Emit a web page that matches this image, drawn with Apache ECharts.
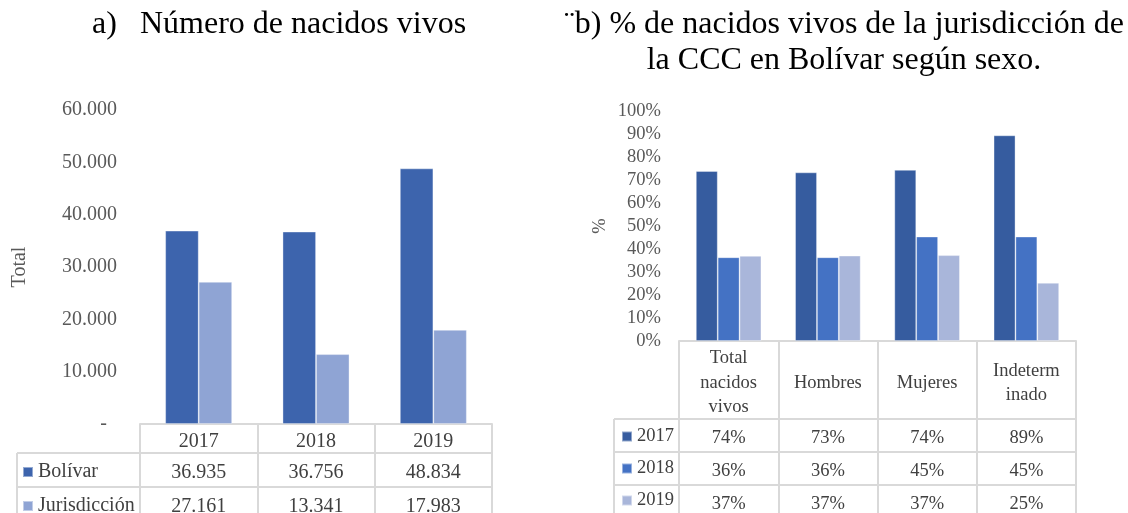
<!DOCTYPE html>
<html>
<head>
<meta charset="utf-8">
<script src="https://cdn.jsdelivr.net/npm/echarts@6/dist/echarts.min.js"></script>
<style>
  html, body { margin: 0; padding: 0; background: #fff; }
  #chart { width: 1128px; height: 513px; }
</style>
</head>
<body>
<div id="chart"></div>
<script>
// a) Número de nacidos vivos
const years = ['2017', '2018', '2019'];
const bolivar = [36935, 36756, 48834];
const jurisdiccion = [27161, 13341, 17983];

// b) % de nacidos vivos de la jurisdicción según sexo
const sexCats = ['Total\nnacidos\nvivos', 'Hombres', 'Mujeres', 'Indeterm\ninado'];
const pct2017 = [73.9, 73.3, 74.4, 89.4];
const pct2018 = [36.4, 36.4, 45.4, 45.4];
const pct2019 = [37.0, 37.1, 37.3, 25.3];

const FONT = "'Liberation Serif', 'Times New Roman', serif";
const LINE = '#D9D9D9';
const TXT = '#404040';
const AXT = '#595959';

// layout of the two panels (plot box + table rows)
const A = { left: 140, top: 110, width: 352, height: 314, headH: 29, rowH: 34, colX: 17 };
const B = { left: 679, top: 111, width: 397, height: 230, headH: 78, rowH: 33, colX: 614 };

const fmtMiles = v => String(v).replace(/\B(?=(\d{3})+(?!\d))/g, '.');
const fmtPct = v => Math.round(v) + '%';

// one category axis per table row: axis line = top border, ticks = cell walls
function tableAxis(gridIndex, cats, offset, h, fontSize, formatter) {
    return {
        type: 'category',
        gridIndex: gridIndex,
        data: cats,
        position: 'bottom',
        offset: offset,
        axisLine: { show: true, lineStyle: { color: LINE, width: 2 } },
        axisTick: { show: true, length: h, interval: 0, lineStyle: { color: LINE, width: 2 } },
        axisLabel: {
            interval: 0,
            margin: h / 2 + 3,
            verticalAlign: 'middle',
            fontFamily: FONT,
            fontSize: fontSize,
            lineHeight: 24.5,
            color: TXT,
            formatter: formatter
        },
        splitLine: { show: false }
    };
}

// borders of the legend column left of each table
function sideLines(box, nRows) {
    const out = [];
    const y0 = box.top + box.height + box.headH;
    for (let i = 0; i <= nRows; i++) {
        const y = y0 + i * box.rowH;
        out.push({ type: 'line', shape: { x1: box.colX, y1: y, x2: box.left, y2: y },
            style: { stroke: LINE, lineWidth: 2 } });
    }
    out.push({ type: 'line', shape: { x1: box.colX, y1: y0, x2: box.colX, y2: y0 + nRows * box.rowH },
        style: { stroke: LINE, lineWidth: 2 } });
    return out;
}

function titleText(x, y, text, align) {
    return { type: 'text', x: x, y: y,
        style: { text: text, fontFamily: FONT, fontSize: 32, fill: '#000',
                 align: align, verticalAlign: 'middle' } };
}

const barEdge = { borderColor: 'rgba(255,255,255,0.45)', borderWidth: 0.8 };

const xAxes = [
    tableAxis(0, years, 0, A.headH, 20),
    tableAxis(0, years, A.headH, A.rowH, 20, (v, i) => fmtMiles(bolivar[i])),
    tableAxis(0, years, A.headH + A.rowH, A.rowH, 20, (v, i) => fmtMiles(jurisdiccion[i])),
    tableAxis(1, sexCats, 0, B.headH, 18.5),
    tableAxis(1, sexCats, B.headH, B.rowH, 18.5, (v, i) => fmtPct(pct2017[i])),
    tableAxis(1, sexCats, B.headH + B.rowH, B.rowH, 18.5, (v, i) => fmtPct(pct2018[i])),
    tableAxis(1, sexCats, B.headH + 2 * B.rowH, B.rowH, 18.5, (v, i) => fmtPct(pct2019[i]))
];

const chart = echarts.init(document.getElementById('chart'));
chart.setOption({
    animation: false,
    grid: [
        { left: A.left, top: A.top, width: A.width, height: A.height, outerBoundsMode: 'none', containLabel: false },
        { left: B.left, top: B.top, width: B.width, height: B.height, outerBoundsMode: 'none', containLabel: false }
    ],
    xAxis: xAxes,
    yAxis: [
        {
            type: 'value', gridIndex: 0, min: 0, max: 60000, interval: 10000,
            name: 'Total', nameLocation: 'middle', nameGap: 110,
            nameTextStyle: { fontFamily: FONT, fontSize: 20, color: AXT },
            axisLine: { show: false }, axisTick: { show: false }, splitLine: { show: false },
            axisLabel: { margin: 23, fontFamily: FONT, fontSize: 20, color: AXT,
                formatter: v => v === 0 ? '-  ' : fmtMiles(v) }
        },
        {
            type: 'value', gridIndex: 1, min: 0, max: 100, interval: 10,
            name: '%', nameLocation: 'middle', nameGap: 69,
            nameTextStyle: { fontFamily: FONT, fontSize: 18.5, color: AXT },
            axisLine: { show: false }, axisTick: { show: false }, splitLine: { show: false },
            axisLabel: { margin: 18, fontFamily: FONT, fontSize: 18.5, color: AXT,
                formatter: '{value}%' }
        }
    ],
    legend: [
        {
            data: ['Bolívar', 'Jurisdicción'], orient: 'vertical', left: 22, top: 462,
            height: 120, padding: 0, itemWidth: 10, itemHeight: 10, itemGap: 14, icon: 'rect',
            selectedMode: false,
            textStyle: { fontFamily: FONT, fontSize: 20, color: TXT }
        },
        {
            data: ['2017', '2018', '2019'], orient: 'vertical', left: 621, top: 427,
            height: 140, padding: 0, itemWidth: 10, itemHeight: 10, itemGap: 13, icon: 'rect',
            selectedMode: false,
            textStyle: { fontFamily: FONT, fontSize: 18.5, color: TXT }
        }
    ],
    series: [
        { name: 'Bolívar', type: 'bar', xAxisIndex: 0, yAxisIndex: 0, data: bolivar,
          barGap: '0%', barCategoryGap: '43%', itemStyle: Object.assign({ color: '#3D64AD' }, barEdge) },
        { name: 'Jurisdicción', type: 'bar', xAxisIndex: 0, yAxisIndex: 0, data: jurisdiccion,
          itemStyle: Object.assign({ color: '#8FA4D4' }, barEdge) },
        { name: '2017', type: 'bar', xAxisIndex: 3, yAxisIndex: 1, data: pct2017,
          barGap: '0%', barCategoryGap: '34%', itemStyle: Object.assign({ color: '#365C9F' }, barEdge) },
        { name: '2018', type: 'bar', xAxisIndex: 3, yAxisIndex: 1, data: pct2018,
          itemStyle: Object.assign({ color: '#4472C4' }, barEdge) },
        { name: '2019', type: 'bar', xAxisIndex: 3, yAxisIndex: 1, data: pct2019,
          itemStyle: Object.assign({ color: '#A9B6DA' }, barEdge) }
    ],
    graphic: [
        titleText(92, 25, 'a)', 'left'),
        titleText(140, 25, 'Número de nacidos vivos', 'left'),
        titleText(844, 25, '¨b) % de nacidos vivos de la jurisdicción de', 'center'),
        titleText(844, 61, 'la CCC en Bolívar según sexo.', 'center')
    ].concat(sideLines(A, 2), sideLines(B, 3))
});
</script>
</body>
</html>
